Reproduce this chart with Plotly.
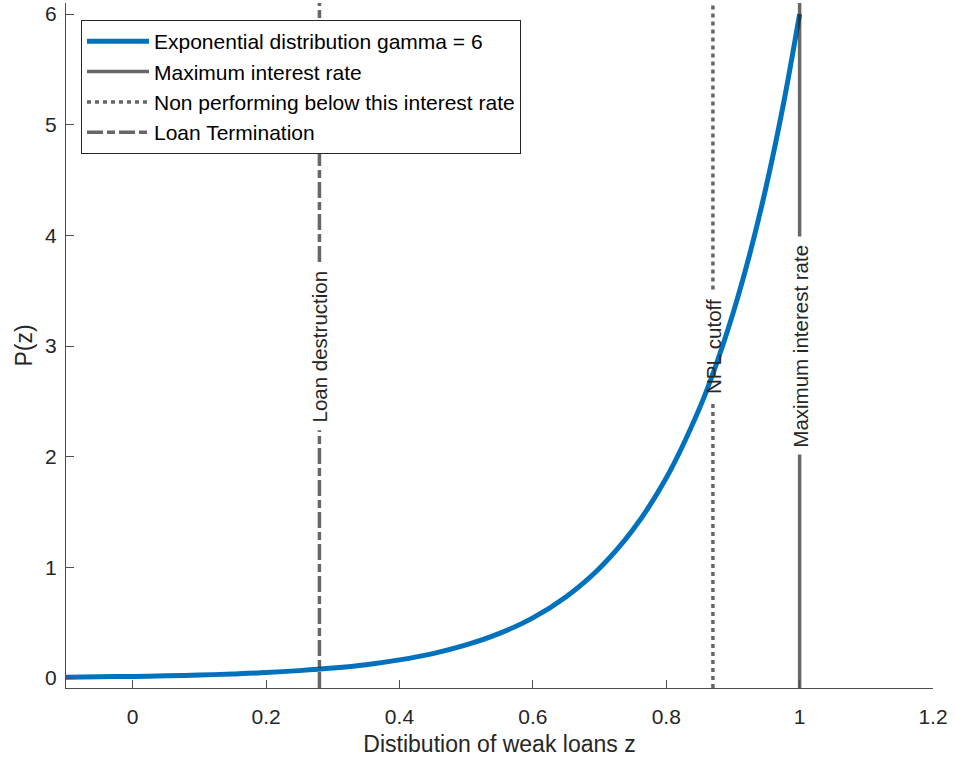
import plotly.graph_objects as go

# ---- data ----
z_vals = [-0.10, -0.05, 0.00, 0.05, 0.10, 0.15, 0.20, 0.25, 0.30, 0.35, 0.40,
          0.45, 0.50, 0.55, 0.60, 0.65, 0.70, 0.75, 0.80, 0.85, 0.875, 0.90,
          0.925, 0.95, 0.975, 1.00]
p_vals = [0.008, 0.011, 0.015, 0.020, 0.027, 0.037, 0.049, 0.067, 0.090, 0.121,
          0.164, 0.221, 0.299, 0.403, 0.544, 0.735, 0.992, 1.339, 1.807, 2.439,
          2.834, 3.293, 3.826, 4.445, 5.164, 6.00]

line_names = ["Maximum interest rate", "Non performing below this interest rate",
              "Loan Termination"]
line_x = [1.00, 0.87, 0.28]
line_labels = ["Maximum interest rate", "NPL cutoff", "Loan destruction"]
curve_name = "Exponential distribution gamma = 6"

x_ticks = [0, 0.2, 0.4, 0.6, 0.8, 1.0, 1.2]
y_ticks = [0, 1, 2, 3, 4, 5, 6]

# ---- styling / layout constants ----
X_RANGE = [-0.1, 1.2]
Y_RANGE = [-0.09, 6.1]
LABEL_Y = 3.0
GAPS = [(2.02, 3.99), (2.49, 3.51), (2.24, 3.76)]
DASHES = ["solid", "4px,4px", "16px,4px,8px,4px"]
GRAY = "rgba(38,38,38,0.7)"
TXT = "#262626"
FONT = "Liberation Sans, Arial, sans-serif"

fig = go.Figure()
fig.add_trace(go.Scatter(
    x=z_vals, y=p_vals, mode="lines", name=curve_name,
    line=dict(color="#0072BD", width=5, shape="spline"),
))

for name, xv, (g0, g1), dash in zip(line_names, line_x, GAPS, DASHES):
    fig.add_trace(go.Scatter(
        x=[xv, xv, None, xv, xv],
        y=[Y_RANGE[0], g0, None, g1, Y_RANGE[1]],
        mode="lines", name=name,
        line=dict(color=GRAY, width=3.5, dash=dash),
    ))

for xv, lab in zip(line_x, line_labels):
    fig.add_annotation(
        x=xv, y=LABEL_Y, text=lab, textangle=-90, showarrow=False,
        xanchor="center", yanchor="middle",
        font=dict(family=FONT, size=20.5, color=TXT),
    )

axis_common = dict(
    showgrid=False, zeroline=False, showline=True, linecolor="#4d4d4d",
    linewidth=1, ticks="inside", ticklen=8, tickcolor="#4d4d4d",
    tickfont=dict(family=FONT, size=21, color=TXT),
    mirror=False, automargin=False, ticklabeloverflow="allow",
)

fig.update_layout(
    width=955, height=765,
    margin=dict(l=66, r=22, t=3, b=77),
    paper_bgcolor="white", plot_bgcolor="white",
    font=dict(family=FONT, color=TXT),
    xaxis=dict(range=X_RANGE, tickvals=x_ticks,
               ticktext=[f"{v:g}" for v in x_ticks],
               title=dict(text="Distibution of weak loans z",
                          font=dict(family=FONT, size=23, color=TXT), standoff=8),
               ticklabelstandoff=10, **axis_common),
    yaxis=dict(range=Y_RANGE, tickvals=y_ticks,
               title=dict(text="P(z)", font=dict(family=FONT, size=23, color=TXT),
                          standoff=6),
               ticklabelstandoff=4, **axis_common),
    legend=dict(x=0.0173, y=0.975, xanchor="left", yanchor="top",
                bgcolor="white", bordercolor=TXT, borderwidth=1,
                font=dict(family=FONT, size=21, color="#000000"),
                itemwidth=62, tracegroupgap=0),
    showlegend=True,
)

fig.write_html("out.html",
               config={"displayModeBar": False},
               post_script="document.body.style.margin='0';"
                           "document.body.style.overflow='hidden';")
